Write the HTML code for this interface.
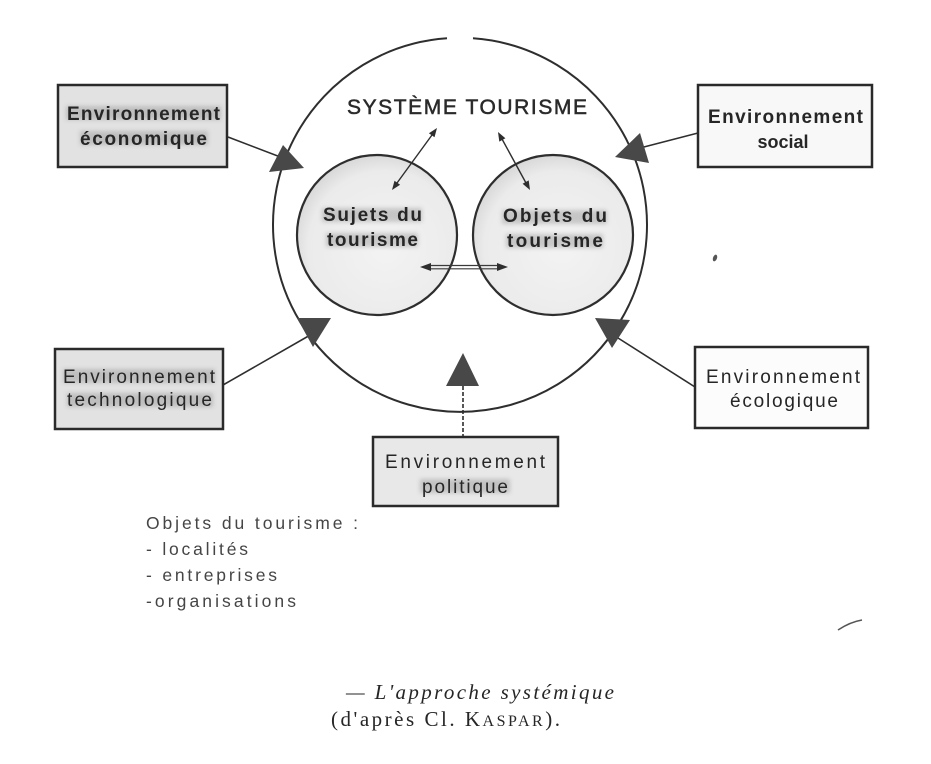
<!DOCTYPE html>
<html>
<head>
<meta charset="utf-8">
<style>
  html, body { margin: 0; padding: 0; background: #ffffff; }
  svg { display: block; }
  .box { font-family: "Liberation Sans", sans-serif; font-size: 19px; fill: #262626; }
  .b { font-weight: bold; }
  .list { font-family: "Liberation Sans", sans-serif; font-size: 17.5px; fill: #454545; }
  .cap { font-family: "Liberation Serif", serif; font-size: 21px; fill: #262626; }
</style>
</head>
<body>
<svg width="931" height="764" viewBox="0 0 931 764" xmlns="http://www.w3.org/2000/svg">
  <defs>
    <filter id="blur" x="-10%" y="-30%" width="120%" height="160%">
      <feGaussianBlur stdDeviation="2.2"/>
    </filter>
    <radialGradient id="cg" cx="55%" cy="58%" r="60%">
      <stop offset="0%" stop-color="#f3f3f3"/>
      <stop offset="80%" stop-color="#ebebeb"/>
      <stop offset="100%" stop-color="#d6d6d6"/>
    </radialGradient>
  </defs>

  <rect x="0" y="0" width="931" height="764" fill="#ffffff"/>

  <!-- big system circle (gap at top) -->
  <path d="M473,38.3 A187,187 0 1,1 447,38.3" fill="none" stroke="#2e2e2e" stroke-width="2"/>

  <!-- inner circles -->
  <circle cx="377" cy="235" r="80" fill="url(#cg)" stroke="#2e2e2e" stroke-width="2.2"/>
  <circle cx="553" cy="235" r="80" fill="url(#cg)" stroke="#2e2e2e" stroke-width="2.2"/>

  <!-- title -->
  <text x="347" y="114" font-family="Liberation Sans, sans-serif" font-size="21" fill="#2a2a2a" stroke="#2a2a2a" stroke-width="0.5" textLength="240" lengthAdjust="spacing">SYSTÈME TOURISME</text>

  <!-- diagonal double arrows -->
  <line x1="432" y1="135" x2="397" y2="183" stroke="#2e2e2e" stroke-width="1.4"/>
  <polygon points="437,128 434.5,137.3 428.9,133.2" fill="#2e2e2e"/>
  <polygon points="392,190 400.1,184.8 394.5,180.7" fill="#2e2e2e"/>

  <line x1="502" y1="139" x2="526" y2="183" stroke="#2e2e2e" stroke-width="1.4"/>
  <polygon points="498,132 505.4,138.2 499.3,141.6" fill="#2e2e2e"/>
  <polygon points="530,190 528.7,180.4 522.6,183.8" fill="#2e2e2e"/>

  <!-- horizontal double arrow -->
  <line x1="428" y1="265.5" x2="500" y2="265.5" stroke="#3a3a3a" stroke-width="1.2"/>
  <line x1="428" y1="268.8" x2="500" y2="268.8" stroke="#3a3a3a" stroke-width="1.2"/>
  <polygon points="420,267 431,263 431,271" fill="#2e2e2e"/>
  <polygon points="508,267 497,263 497,271" fill="#2e2e2e"/>

  <!-- connector lines -->
  <g stroke="#2e2e2e" stroke-width="1.6" fill="none">
    <line x1="228" y1="137" x2="283" y2="158"/>
    <line x1="698" y1="133" x2="640" y2="148"/>
    <line x1="223" y1="385" x2="312" y2="334"/>
    <line x1="695" y1="387" x2="618" y2="338"/>
    <line x1="463" y1="386" x2="463" y2="437" stroke-dasharray="4 2"/>
  </g>

  <!-- arrowhead triangles -->
  <g fill="#484848">
    <polygon points="283,145 269,172 304,168"/>
    <polygon points="640,133 615,157 649,163"/>
    <polygon points="297,318 331,318 313,347"/>
    <polygon points="595,318 630,320 612,348"/>
    <polygon points="463,353 446,386 479,386"/>
  </g>

  <!-- boxes -->
  <rect x="58" y="85" width="169" height="82" fill="#e2e2e2" stroke="#2a2a2a" stroke-width="2.5"/>
  <rect x="698" y="85" width="174" height="82" fill="#f8f8f8" stroke="#2a2a2a" stroke-width="2.5"/>
  <rect x="55" y="349" width="168" height="80" fill="#e2e2e2" stroke="#2a2a2a" stroke-width="2.5"/>
  <rect x="695" y="347" width="173" height="81" fill="#fcfcfc" stroke="#2a2a2a" stroke-width="2.5"/>
  <rect x="373" y="437" width="185" height="69" fill="#e8e8e8" stroke="#2a2a2a" stroke-width="2.5"/>

  <!-- blurred halos behind text -->
  <g filter="url(#blur)" fill="#8a8a8a" opacity="0.4">
    <rect x="66" y="106" width="155" height="14"/>
    <rect x="80" y="131" width="128" height="14"/>
    <rect x="63" y="369" width="152" height="14"/>
    <rect x="67" y="393" width="146" height="14"/>
    <rect x="420" y="479" width="90" height="14"/>
    <rect x="322" y="208" width="100" height="14"/>
    <rect x="326" y="233" width="92" height="14"/>
    <rect x="502" y="210" width="105" height="14"/>
    <rect x="506" y="234" width="97" height="14"/>
  </g>

  <!-- circle texts -->
  <g class="box b">
    <text x="323" y="221" textLength="99" lengthAdjust="spacing">Sujets du</text>
    <text x="327" y="246" textLength="91" lengthAdjust="spacing">tourisme</text>
    <text x="503" y="222" textLength="104" lengthAdjust="spacing">Objets du</text>
    <text x="507" y="247" textLength="96" lengthAdjust="spacing">tourisme</text>
  </g>

  <!-- box texts -->
  <g class="box b">
    <text x="67" y="120" textLength="153" lengthAdjust="spacing">Environnement</text>
    <text x="80" y="145" textLength="127" lengthAdjust="spacing">économique</text>
    <text x="708" y="123" textLength="155" lengthAdjust="spacing">Environnement</text>
    <text x="783" y="148" text-anchor="middle" font-size="18">social</text>
  </g>
  <g class="box">
    <text x="63" y="383" textLength="152" lengthAdjust="spacing">Environnement</text>
    <text x="67" y="406" textLength="145" lengthAdjust="spacing">technologique</text>
    <text x="706" y="383" textLength="154" lengthAdjust="spacing">Environnement</text>
    <text x="730" y="407" textLength="108" lengthAdjust="spacing">écologique</text>
    <text x="385" y="468" textLength="160" lengthAdjust="spacing">Environnement</text>
    <text x="422" y="493" textLength="86" lengthAdjust="spacing">politique</text>
  </g>

  <!-- list -->
  <g class="list">
    <text x="146" y="529" textLength="212" lengthAdjust="spacing">Objets du tourisme :</text>
    <text x="146" y="555" textLength="102" lengthAdjust="spacing">- localités</text>
    <text x="146" y="581" textLength="131" lengthAdjust="spacing">- entreprises</text>
    <text x="146" y="607" textLength="150" lengthAdjust="spacing">-organisations</text>
  </g>

  <!-- caption -->
  <text class="cap" x="346" y="699" font-style="italic" textLength="268" lengthAdjust="spacing">— L'approche systémique</text>
  <text class="cap" x="331" y="726" textLength="229" lengthAdjust="spacing">(d'après Cl. K<tspan font-size="16">ASPAR</tspan>).</text>

  <!-- stray marks -->
  <ellipse cx="715" cy="258" rx="2" ry="3.5" fill="#555" transform="rotate(20 715 258)"/>
  <path d="M838,630 Q850,622 862,620" stroke="#555" stroke-width="1.5" fill="none"/>
</svg>
</body>
</html>
